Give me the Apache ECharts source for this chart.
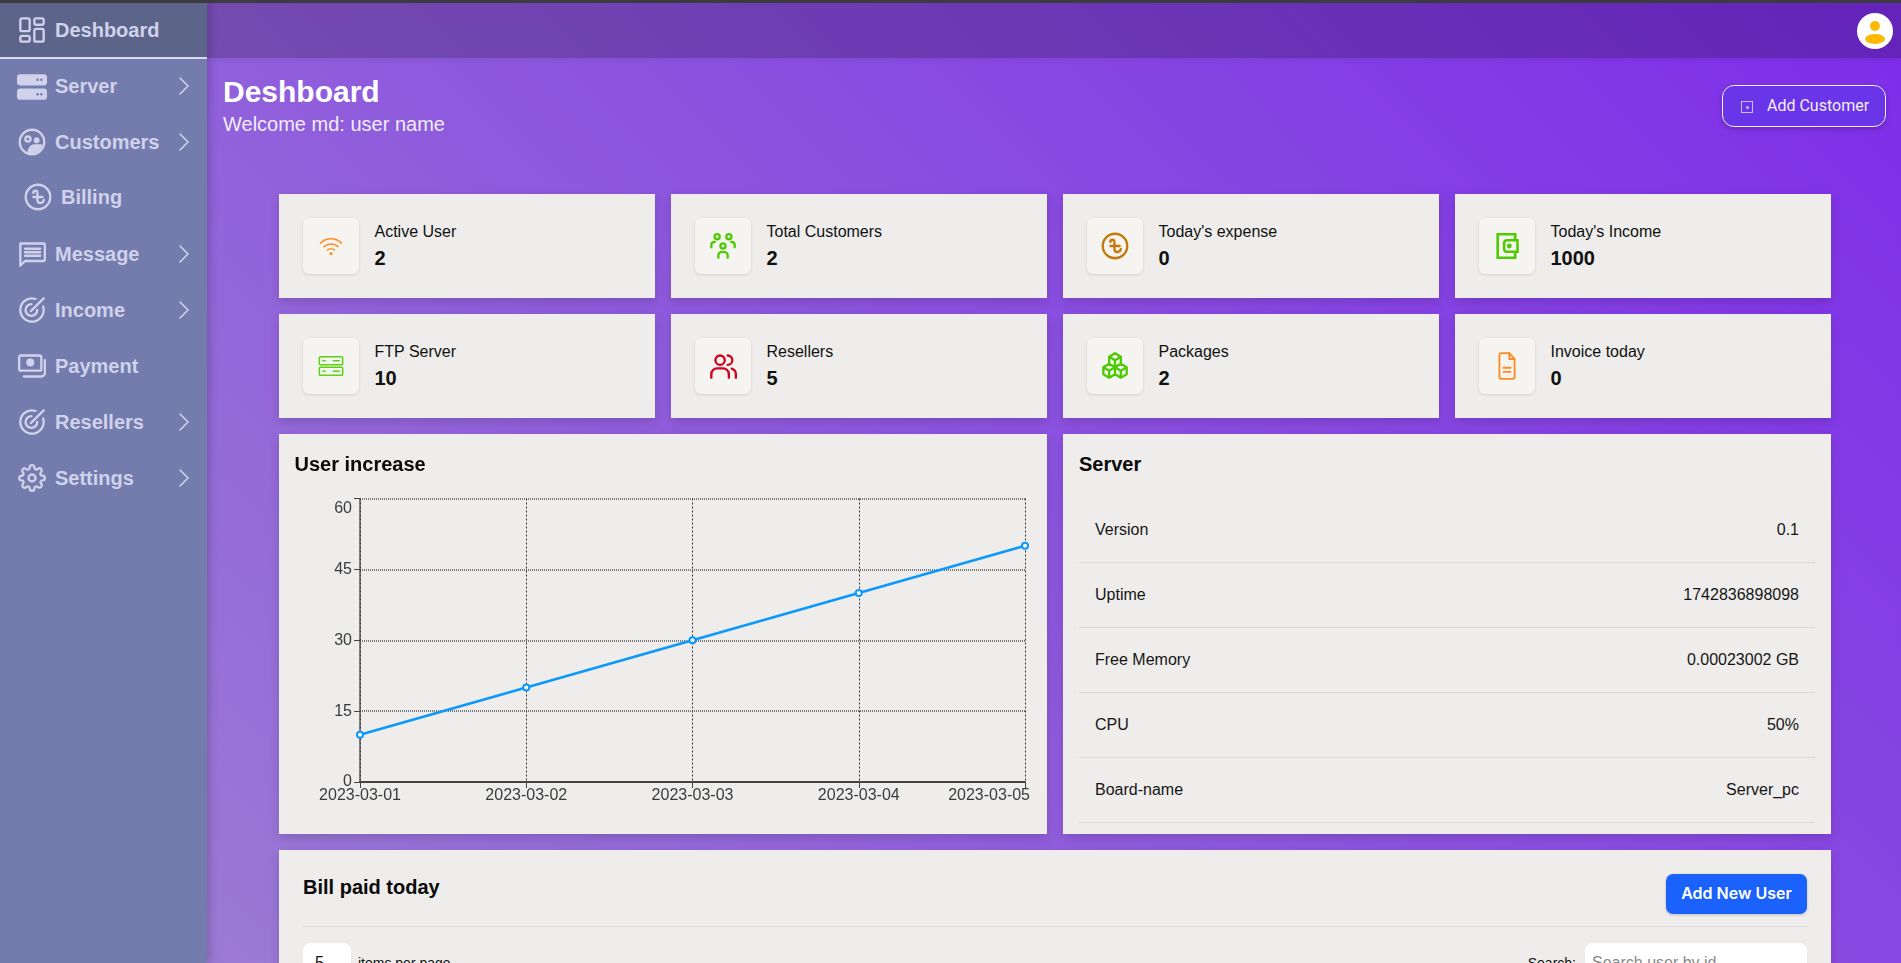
<!DOCTYPE html>
<html lang="en">
<head>
<meta charset="UTF-8">
<title>Deshboard</title>
<script src="https://cdn.jsdelivr.net/npm/echarts@6/dist/echarts.min.js"></script>
<style>
    * { box-sizing: border-box; }
    html, body { margin: 0; height: 100%; }
    body {
        width: 1901px; height: 963px; overflow: hidden; position: relative;
        font-family: "Liberation Sans", Arial, sans-serif; color: #111;
        background: linear-gradient(45deg, #9d80d3, #7d2ce9);
    }
    .abs { position: absolute; }
    #topline { left: 0; top: 0; width: 1901px; height: 3px; background: #3c3c40; z-index: 5; }
    #topbar { left: 207px; top: 0; width: 1694px; height: 58px; background: rgba(0,0,0,.2); box-shadow: 0 1px 6px rgba(0,0,0,.08); }
    #sidebar { left: 0; top: 0; width: 207px; height: 963px; background: #747bad; box-shadow: 3px 0 8px rgba(0,0,0,.18); }
    #active { left: 0; top: 3px; width: 207px; height: 56px; background: #5c6489; border-bottom: 2px solid #d8dbee; }
    .menu { position: absolute; font-size: 20px; font-weight: bold; color: #cfd2ea; line-height: 24px; }
    .micon, .chev { position: absolute; stroke: #cfd2ea; fill: none; stroke-linecap: round; stroke-linejoin: round; }
    .micon { stroke-width: 2; }
    .chev { stroke-width: 1.6; }
    h1 { position: absolute; left: 223px; top: 74px; margin: 0; font-size: 30px; line-height: 36px; color: #fff; }
    #welcome { left: 223px; top: 112px; font-size: 20px; line-height: 24px; color: #f1ecfb; }
    #addcust { left: 1722px; top: 85px; width: 164px; height: 42px; border: 1px solid #eee; border-radius: 12px; background: #6a35e8; color: #f3effd; font: 16px Roboto, sans-serif; line-height: 40px; padding-left: 44px; box-shadow: 0 2px 5px rgba(0,0,0,.2); }
    #addcust i { position: absolute; left: 18px; top: 15px; width: 12px; height: 12px; border: 1px solid #cdbcf7; }
    #addcust i:after { content: ""; position: absolute; left: 3.5px; top: 3.5px; width: 3px; height: 3px; background: #cdbcf7; border-radius: 50%; }
    .card { position: absolute; background: #eeedeb; box-shadow: 0 4px 10px rgba(0,0,0,.14); }
    .stat { width: 376px; height: 104px; }
    .ibox { position: absolute; left: 24px; top: 24px; width: 56px; height: 56px; background: #f5f4f1; border-radius: 6px; box-shadow: 0 1px 3px rgba(0,0,0,.12); }
    .ibox svg { position: absolute; left: 14px; top: 14px; width: 28px; height: 28px; fill: none; stroke-width: 2; stroke-linecap: round; stroke-linejoin: round; }
    .slabel { position: absolute; left: 95.5px; top: 28px; font-size: 16px; line-height: 20px; }
    .svalue { position: absolute; left: 95.5px; top: 52px; font-size: 20px; line-height: 24px; font-weight: bold; }
    .ctitle { position: absolute; font-size: 20px; font-weight: bold; line-height: 24px; color: #0a0a0a; }
    #chart { position: absolute; left: 0; top: 0; width: 768px; height: 400px; }
    .row { position: absolute; left: 16px; width: 736px; height: 65px; border-bottom: 1px solid #d9d8d6; font-size: 16px; line-height: 63px; padding: 0 16px; display: flex; justify-content: space-between; color: #161616; }
    #bill { left: 279px; top: 850px; width: 1552px; height: 130px; }
    #addnew { left: 1387px; top: 24px; width: 141px; height: 40px; border-radius: 7px; background: #1a62fb; color: #fff; font: 600 16px Inter, sans-serif; line-height: 38px; text-align: center; box-shadow: 0 1px 3px rgba(0,0,0,.2); }
    #billline { left: 24px; top: 76px; width: 1505px; height: 1px; background: #d9d8d6; }
    #sel { left: 24px; top: 93px; width: 48px; height: 40px; background: #fff; border-radius: 8px; font-size: 16px; padding: 11px 0 0 12px; line-height: 18px; }
    #perpage { left: 79px; top: 105px; font-size: 14px; line-height: 16px; }
    #searchl { left: 1247px; top: 105px; width: 50px; text-align: right; font-size: 14px; line-height: 16px; }
    #searchi { left: 1306px; top: 93px; width: 222px; height: 40px; background: #fff; border-radius: 8px; font-size: 16px; color: #888; padding: 11px 0 0 7px; line-height: 18px; }
</style>
</head>
<body>
<div class="abs" id="topbar"></div>
<div class="abs" id="sidebar"><div class="abs" id="active"></div></div>
<div class="abs" id="topline"></div>
<div id="menu"></div>
<h1>Deshboard</h1>
<div class="abs" id="welcome">Welcome md: user name</div>
<div class="abs" id="addcust"><i></i>Add Customer</div>
<svg class="abs" style="left:1857px;top:13px" width="36" height="36" viewBox="0 0 36 36">
    <circle cx="18" cy="18" r="18" fill="#fff"/>
    <circle cx="18" cy="13" r="5" fill="#ffb900"/>
    <ellipse cx="18" cy="26" rx="10" ry="5" fill="#ffb900"/>
</svg>
<div id="stats"></div>

<div class="card" style="left:279px;top:434px;width:768px;height:400px">
    <div class="ctitle" style="left:15.500px;top:18px;z-index:2">User increase</div>
    <div id="chart"></div>
</div>

<div class="card" style="left:1063px;top:434px;width:768px;height:400px" id="server">
    <div class="ctitle" style="left:16px;top:18px">Server</div>
</div>

<div class="card abs" id="bill">
    <div class="ctitle" style="left:24px;top:25px">Bill paid today</div>
    <div class="abs" id="addnew">Add New User</div>
    <div class="abs" id="billline"></div>
    <div class="abs" id="sel">5</div>
    <div class="abs" id="perpage">items per page</div>
    <div class="abs" id="searchl">Search:</div>
    <div class="abs" id="searchi">Search user by id</div>
</div>

<script>
    var dates = ["2023-03-01", "2023-03-02", "2023-03-03", "2023-03-04", "2023-03-05"];
    var userCounts = [10, 20, 30, 40, 50];
    var yTicks = { min: 0, max: 60, interval: 15 };

    var serverKeys = ["Version", "Uptime", "Free Memory", "CPU", "Board-name"];
    var serverValues = ["0.1", "1742836898098", "0.00023002 GB", "50%", "Server_pc"];

    var statLabels = ["Active User", "Total Customers", "Today's expense", "Today's Income", "FTP Server", "Resellers", "Packages", "Invoice today"];
    var statValues = ["2", "2", "0", "1000", "10", "5", "2", "0"];
    var statColors = ["#ff8a1e", "#4ecb00", "#c47a0a", "#4ecb00", "#5fd015", "#d0021b", "#4ecb00", "#ff8a1e"];

    var icons = {
        grid: '<rect x="2" y="2" width="8" height="11" rx="1.5"/><rect x="14" y="2" width="8" height="5.500" rx="1.5"/><rect x="2" y="17" width="8" height="5" rx="1.5"/><rect x="14" y="11" width="8" height="11" rx="1.5"/>',
        serverFill: '<rect x="0" y="2.500" width="24" height="9" rx="2.500" fill="currentColor" stroke="none"/><rect x="0" y="14" width="24" height="9" rx="2.500" fill="currentColor" stroke="none"/><circle cx="16.500" cy="7" r="1" fill="#747bad" stroke="none"/><circle cx="19.500" cy="7" r="1" fill="#747bad" stroke="none"/><circle cx="16.500" cy="18.500" r="1" fill="#747bad" stroke="none"/><circle cx="19.500" cy="18.500" r="1" fill="#747bad" stroke="none"/>',
        customers: '<circle cx="12" cy="12" r="10.500"/><circle cx="8.500" cy="9.500" r="2.200"/><circle cx="16" cy="10.500" r="1.500" fill="currentColor"/><path d="M9 21c0-4 3-6 5-6h6l-3 5z" fill="currentColor"/>',
        taka: '<circle cx="12" cy="12" r="10.500"/><path d="M8 8.500c0-2.500 3.500-2.500 3.500 0v6c0 3.500 5 3.500 5.500 0M8 12h8"/>',
        message: '<path d="M2 3h20a1 1 0 0 1 1 1v13a1 1 0 0 1-1 1H6l-4 4z"/><path d="M6 7.500h13M6 10.500h13M6 13.500h13"/>',
        target: '<path d="M21.500 9a10 10 0 1 1-6.500-6.500"/><path d="M16.500 12a5 5 0 1 1-5-5"/><path d="M11 13L22 2"/>',
        payment: '<rect x="1" y="3" width="19" height="13" rx="1.500"/><circle cx="10.500" cy="9" r="2.500" fill="currentColor"/><path d="M23 7v11a3 3 0 0 1-3 3H5"/>',
        gear: '<circle cx="12" cy="12" r="3"/><path d="M19.400 15a1.650 1.650 0 0 0 .33 1.820l.06.06a2 2 0 0 1 0 2.830 2 2 0 0 1-2.830 0l-.06-.06a1.650 1.650 0 0 0-1.820-.33 1.650 1.650 0 0 0-1 1.510V21a2 2 0 0 1-2 2 2 2 0 0 1-2-2v-.09A1.650 1.650 0 0 0 9 19.400a1.650 1.650 0 0 0-1.820.33l-.06.06a2 2 0 0 1-2.830 0 2 2 0 0 1 0-2.830l.06-.06a1.650 1.650 0 0 0 .33-1.820 1.650 1.650 0 0 0-1.510-1H3a2 2 0 0 1-2-2 2 2 0 0 1 2-2h.09A1.650 1.650 0 0 0 4.600 9a1.650 1.650 0 0 0-.33-1.820l-.06-.06a2 2 0 0 1 0-2.830 2 2 0 0 1 2.830 0l.06.06a1.650 1.650 0 0 0 1.820.33H9a1.650 1.650 0 0 0 1-1.510V3a2 2 0 0 1 2-2 2 2 0 0 1 2 2v.09a1.650 1.650 0 0 0 1 1.510 1.650 1.650 0 0 0 1.820-.33l.06-.06a2 2 0 0 1 2.830 0 2 2 0 0 1 0 2.830l-.06.06a1.650 1.650 0 0 0-.33 1.820V9a1.650 1.650 0 0 0 1.510 1H21a2 2 0 0 1 2 2 2 2 0 0 1-2 2h-.09a1.650 1.650 0 0 0-1.510 1z"/>',
        wifi: '<g stroke-width="1.300"><path d="M3 9.500a13 13 0 0 1 18 0M6 12.500a9 9 0 0 1 12 0M9 15.500a4.500 4.500 0 0 1 6 0"/><circle cx="12" cy="18.500" r=".7" fill="currentColor"/></g>',
        people: '<circle cx="7" cy="4" r="2.200"/><circle cx="17" cy="4" r="2.200"/><circle cx="12" cy="12" r="2.200"/><path d="M2 13v-2c0-1.500 1-2.500 3-2.500M22 13v-2c0-1.500-1-2.500-3-2.500M8 22v-2c0-2 1.500-3 4-3s4 1 4 3v2"/>',
        wallet: '<g stroke-width="2.200" stroke-linecap="butt" stroke-linejoin="miter"><path d="M19 7V2H4v20h15v-5"/><path d="M12 7h9v10h-9a2.500 2.500 0 0 1-2.500-2.500v-5A2.500 2.500 0 0 1 12 7z"/><circle cx="14" cy="12" r="1"/></g>',
        serverLine: '<g stroke-width="1.300"><rect x="2" y="4" width="20" height="7" rx="1"/><rect x="2" y="13" width="20" height="7" rx="1"/><path d="M5 7.500h2M14 7.500h5M5 16.500h2M14 16.500h5"/></g>',
        users: '<circle cx="9.500" cy="7" r="4"/><path d="M2 22v-3a5 5 0 0 1 5-5h5a5 5 0 0 1 5 5v3M16 3a4 4 0 0 1 0 8M23 22v-3a5 5 0 0 0-3.500-4.700"/>',
        cubes: '<path d="M12 1l5 3v6l-5 3-5-3V4zM7 10l5 3v6l-5 3-5-3v-6zM17 10l5 3v6l-5 3-5-3v-6zM7 4l5 3 5-3M2 13l5 3 5-3 5 3 5-3M12 7v6M7 16v6M17 16v6"/>',
        file: '<g stroke-width="1.600"><path d="M14 1H7a1.500 1.500 0 0 0-1.500 1.500v19A1.500 1.500 0 0 0 7 23h10a1.500 1.500 0 0 0 1.500-1.500V6z"/><path d="M14 1v5h4.500M9 13.500h6M9 17h6"/></g>'
    };
    var statIcons = ["wifi", "people", "taka", "wallet", "serverLine", "users", "cubes", "file"];

    var menuNames = ["Deshboard", "Server", "Customers", "Billing", "Message", "Income", "Payment", "Resellers", "Settings"];
    var menuIcons = ["grid", "serverFill", "customers", "taka", "message", "target", "payment", "target", "gear"];
    var menuTops = [30, 86, 142, 197, 254, 310, 366, 422, 478];
    var menuArrows = [0, 1, 1, 0, 1, 1, 0, 1, 1];

    // sidebar
    var html = "";
    menuNames.forEach(function (name, i) {
        var shift = name === "Billing" ? 6 : 0;
        var size = i === 1 ? 30 : 28;
        html += '<svg class="micon" viewBox="0 0 24 24" style="color:#cfd2ea;left:' + (32 + shift - size / 2) + 'px;top:' + (menuTops[i] - size / 2) + 'px;width:' + size + 'px;height:' + size + 'px">' + icons[menuIcons[i]] + '</svg>';
        html += '<div class="menu" style="left:' + (55 + shift) + 'px;top:' + (menuTops[i] - 12) + 'px">' + name + '</div>';
        if (menuArrows[i]) {
            html += '<svg class="chev" viewBox="0 0 12 20" style="left:178px;top:' + (menuTops[i] - 10) + 'px;width:12px;height:20px"><path d="M2 2l8 8-8 8"/></svg>';
        }
    });
    document.getElementById("menu").innerHTML = html;

    // stat cards
    html = "";
    statLabels.forEach(function (label, i) {
        var left = 279 + (i % 4) * 392;
        var top = i < 4 ? 194 : 314;
        html += '<div class="card stat" style="left:' + left + 'px;top:' + top + 'px"><div class="ibox"><svg viewBox="0 0 24 24" style="stroke:' + statColors[i] + ';color:' + statColors[i] + '">' + icons[statIcons[i]] + '</svg></div>'
            + '<div class="slabel">' + label + '</div><div class="svalue">' + statValues[i] + '</div></div>';
    });
    document.getElementById("stats").innerHTML = html;

    // server table
    html = "";
    serverKeys.forEach(function (key, i) {
        html += '<div class="row" style="top:' + (64 + i * 65) + 'px"><span>' + key + '</span><span>' + serverValues[i] + '</span></div>';
    });
    document.getElementById("server").insertAdjacentHTML("beforeend", html);

    var MyChart = echarts.init(document.getElementById("chart"));
    var option = {
        animation: false,
        grid: { left: 81, right: 22, top: 64.5, bottom: 52, show: false },
        xAxis: {
            type: "category",
            boundaryGap: false,
            data: dates,
            axisLine: { lineStyle: { color: "#444", width: 2 } },
            axisTick: { show: true, length: 6, lineStyle: { color: "#444" } },
            axisLabel: {
                color: "#373d3f",
                fontSize: 16,
                fontFamily: "Liberation Sans",
                margin: 6,
                interval: 0,
                hideOverlap: false,
                alignMaxLabel: "right",
                // the last date sticks out a few px past the plot edge
                formatter: function (value) {
                    return value === dates[dates.length - 1] ? "{last|" + value + "}" : value;
                },
                rich: { last: { fontSize: 16, fontFamily: "Liberation Sans", color: "#373d3f", padding: [0, -5, 0, 0] } }
            },
            splitLine: { show: true, lineStyle: { color: "#333", type: [2, 2], width: 1 } }
        },
        yAxis: {
            type: "value",
            min: yTicks.min,
            max: yTicks.max,
            interval: yTicks.interval,
            axisLine: { show: true, onZero: false, lineStyle: { color: "#444", type: [1, 1], width: 1.5 } },
            axisTick: { show: true, length: 6, lineStyle: { color: "#444" } },
            axisLabel: {
                color: "#373d3f",
                fontSize: 16,
                fontFamily: "Liberation Sans",
                margin: 8,
                padding: [2, 0, 0, 0],
                verticalAlignMaxLabel: "top"
            },
            splitLine: { show: true, lineStyle: { color: "#777", type: [1, 1], width: 2 } }
        },
        series: [{
            name: "User increase",
            type: "line",
            data: userCounts,
            symbol: "circle",
            symbolSize: 6,
            lineStyle: { color: "#0a98fa", width: 2.5 },
            itemStyle: { color: "#fff", borderColor: "#0a98fa", borderWidth: 2 }
        }]
    };
    MyChart.setOption(option);
</script>
</body>
</html>
